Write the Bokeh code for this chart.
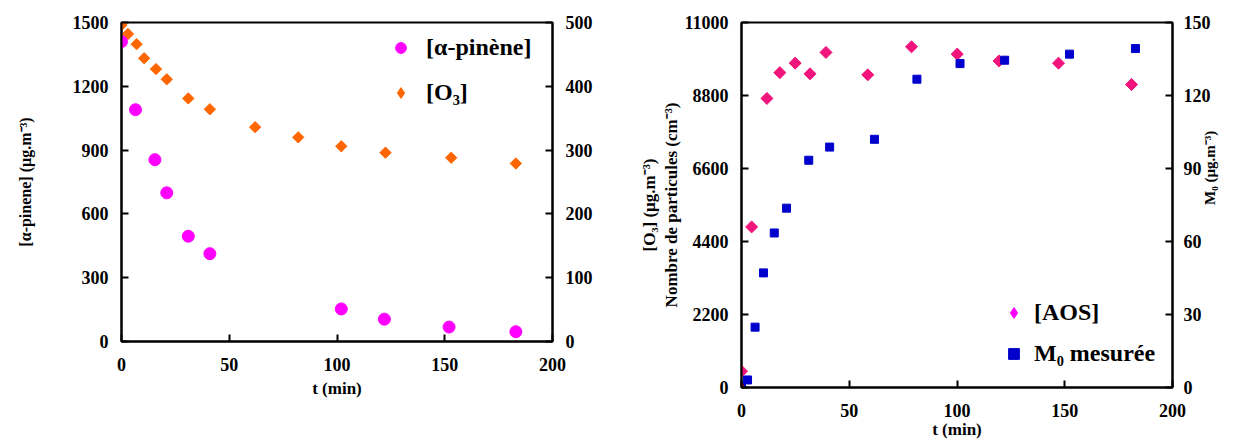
import math
import numpy as np
from bokeh.plotting import figure
from bokeh.models import Range1d, LinearAxis, FixedTicker, Legend, LegendItem
from bokeh.layouts import row
from bokeh.embed import file_html
from bokeh.resources import INLINE

FONT = "Liberation Serif"

# ---------------- data: left chart ----------------
alpha_t = [0, 6.5, 15.5, 21, 31, 41, 102, 122, 152, 183]
alpha_val = [1410, 1090, 855, 699, 495, 413, 153, 105, 68, 46]

o3_t = [0, 3, 7, 10.5, 16, 21, 31, 41, 62, 82, 102, 122.5, 153, 183]
o3_val = [496, 482, 466, 444, 427, 411, 381, 364, 336, 320, 306, 296, 288, 279]

left_x_ticks = [0, 50, 100, 150, 200]
left_y_ticks = [0, 300, 600, 900, 1200, 1500]
left_y2_ticks = [0, 100, 200, 300, 400, 500]

# ---------------- data: right chart ----------------
aos_t = [0, 4.7, 11.8, 17.8, 24.9, 31.8, 39.2, 58.6, 78.9, 100.1, 119.5, 147.1, 181]
aos_val = [6.7, 66, 118.8, 129.4, 133.3, 128.9, 137.7, 128.5, 140, 137, 134.2, 133.3, 124.5]

m0_t = [0, 2.8, 6.3, 10.2, 15.2, 20.9, 31.2, 40.9, 61.7, 81.4, 101.4, 122.1, 152.2, 182.8]
m0_val = [0.2, 3.1, 24.8, 47.1, 63.5, 73.7, 93.4, 98.8, 102, 126.7, 133.1, 134.5, 137, 139.3]

part_t = [0]
part_val = [0]

right_x_ticks = [0, 50, 100, 150, 200]
right_y_ticks = [0, 2200, 4400, 6600, 8800, 11000]
right_y2_ticks = [0, 30, 60, 90, 120, 150]

MAGENTA = "#FF00FF"
ORANGE = "#FF6600"
PINK = "#F0147C"
BLUE = "#0000CC"
RED = "#CC0000"

LEG_NAN = np.array([np.nan])  # legend-only glyphs (no visible mark)


def style_axis(ax, size="18px", standoff=13):
    ax.axis_line_width = 2
    ax.axis_line_color = "black"
    ax.major_tick_in = 7
    ax.major_tick_out = 0
    ax.major_tick_line_width = 2
    ax.major_tick_line_color = "black"
    ax.minor_tick_line_color = None
    ax.major_label_text_font = FONT
    ax.major_label_text_font_style = "bold"
    ax.major_label_text_font_size = size
    ax.major_label_text_color = "black"
    ax.major_label_standoff = standoff
    ax.axis_label_text_font = FONT
    ax.axis_label_text_font_style = "bold"
    ax.axis_label_text_color = "black"


# ======================= LEFT =======================
p1 = figure(width=620, height=400, x_range=Range1d(0, 200), y_range=Range1d(0, 1500),
            output_backend="svg", toolbar_location=None,
            min_border_left=121, min_border_right=68, min_border_top=22, min_border_bottom=57)
p1.extra_y_ranges = {"o3": Range1d(0, 500)}
p1.grid.visible = False
p1.outline_line_color = "black"
p1.outline_line_width = 2

p1.xaxis.ticker = FixedTicker(ticks=left_x_ticks)
p1.yaxis.ticker = FixedTicker(ticks=left_y_ticks)
ax_r1 = LinearAxis(y_range_name="o3", ticker=FixedTicker(ticks=left_y2_ticks))
p1.add_layout(ax_r1, "right")

for ax in p1.xaxis:
    style_axis(ax, "18px", 16)
    ax.axis_label = "t (min)"
    ax.axis_label_text_font_size = "17px"
    ax.axis_label_standoff = 5
for ax in p1.yaxis:
    style_axis(ax, "18px", 13)
p1.yaxis[0].axis_label = "[α-pinene] (µg.m⁻³)"
p1.yaxis[0].axis_label_text_font_size = "16px"
p1.yaxis[0].axis_label_standoff = 36

r_o3 = p1.scatter(o3_t, o3_val, marker="square", angle=np.pi / 4, size=8,
                  color=ORANGE, y_range_name="o3")
r_alpha = p1.scatter(alpha_t, alpha_val, marker="circle", size=12, color=MAGENTA)
r_o3_leg = p1.scatter(LEG_NAN, LEG_NAN, marker="diamond", size=10, color=ORANGE,
                      y_range_name="o3")

leg1 = Legend(items=[LegendItem(label="[α-pinène]", renderers=[r_alpha]),
                     LegendItem(label="[O₃]", renderers=[r_o3_leg])],
              location=(266, 235), glyph_width=27, glyph_height=27, label_height=27,
              spacing=18, label_standoff=12, padding=0, margin=0,
              border_line_color=None, background_fill_alpha=0,
              label_text_font=FONT, label_text_font_style="bold",
              label_text_font_size="24px", label_text_color="black")
p1.add_layout(leg1)

# ======================= RIGHT =======================
p2 = figure(width=622, height=446, x_range=Range1d(0, 200), y_range=Range1d(0, 11000),
            output_backend="svg", toolbar_location=None,
            min_border_left=121, min_border_right=70, min_border_top=22, min_border_bottom=57)
p2.extra_y_ranges = {"m0": Range1d(0, 150)}
p2.grid.visible = False
p2.outline_line_color = "black"
p2.outline_line_width = 2

p2.xaxis.ticker = FixedTicker(ticks=right_x_ticks)
p2.yaxis.ticker = FixedTicker(ticks=right_y_ticks)
ax_r2 = LinearAxis(y_range_name="m0", ticker=FixedTicker(ticks=right_y2_ticks))
p2.add_layout(ax_r2, "right")

for ax in p2.xaxis:
    style_axis(ax, "18px", 16)
    ax.axis_label = "t (min)"
    ax.axis_label_text_font_size = "17px"
    ax.axis_label_standoff = 0
for ax in p2.yaxis:
    style_axis(ax, "18px", 13)
p2.yaxis[0].axis_label = "[O₃] (µg.m⁻³)\nNombre de particules (cm⁻³)"
p2.yaxis[0].axis_label_text_font_size = "17px"
p2.yaxis[0].axis_label_standoff = 0
ax_r2.axis_label = "M₀ (µg.m⁻³)"
ax_r2.axis_label_text_font_size = "15px"
ax_r2.axis_label_standoff = -4
ax_r2.axis_label_orientation = math.pi / 2
ax_r2.major_label_standoff = 11

r_aos = p2.scatter(aos_t, aos_val, marker="square", angle=np.pi / 4, size=8.5,
                   color=PINK, y_range_name="m0")
r_m0 = p2.scatter(m0_t, m0_val, marker="square", size=8, color=BLUE, y_range_name="m0")
r_part = p2.scatter(part_t, part_val, marker="triangle", size=9, color=RED)
r_aos_leg = p2.scatter(LEG_NAN, LEG_NAN, marker="diamond", size=10, color=MAGENTA,
                       y_range_name="m0")

leg2 = Legend(items=[LegendItem(label="[AOS]", renderers=[r_aos_leg]),
                     LegendItem(label="M₀ mesurée", renderers=[r_m0])],
              location=(259, 20), glyph_width=27, glyph_height=27, label_height=27,
              spacing=14, label_standoff=7, padding=0, margin=0,
              border_line_color=None, background_fill_alpha=0,
              label_text_font=FONT, label_text_font_style="bold",
              label_text_font_size="24px", label_text_color="black")
p2.add_layout(leg2)

layout = row(p1, p2)
open("out.html", "w").write(file_html(layout, INLINE))
